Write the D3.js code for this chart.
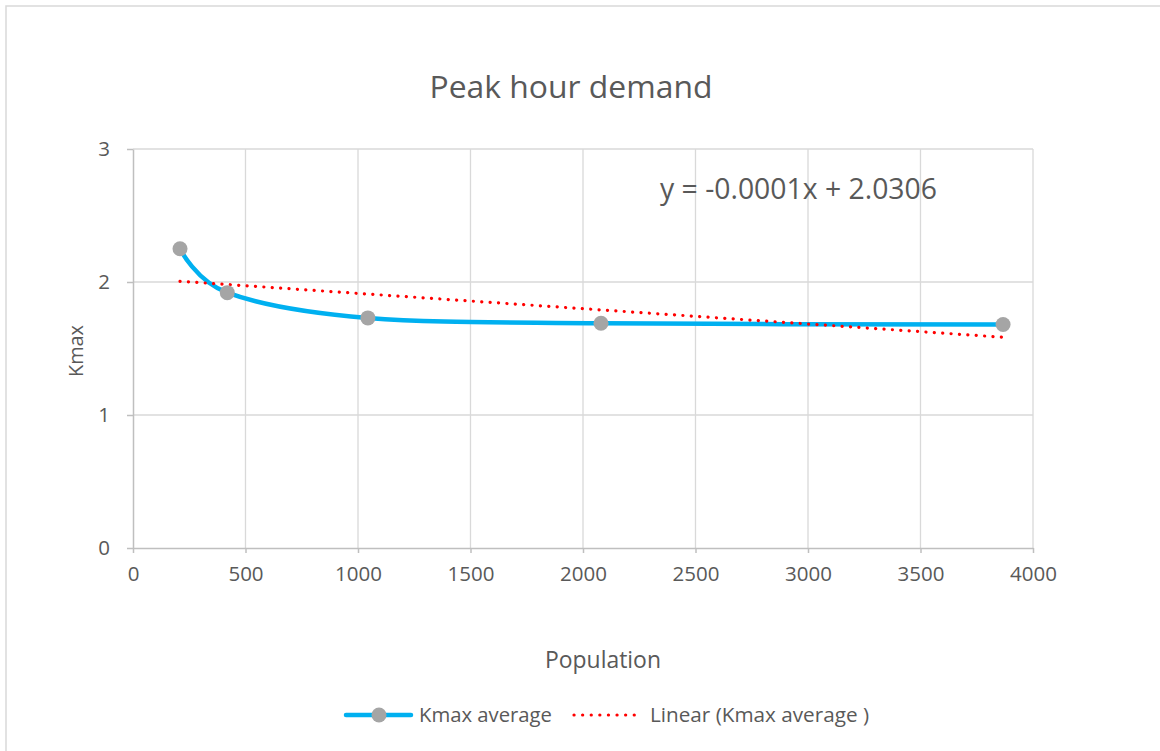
<!DOCTYPE html>
<html>
<head>
<meta charset="utf-8">
<script src="https://cdn.jsdelivr.net/npm/d3@7"></script>
<style>
  body { margin: 0; background: #fff; }
  svg { display: block; }
</style>
</head>
<body>
<svg width="1160" height="751"></svg>
<script>
const population = [209, 419, 1044, 2080, 3867];
const kmax = [2.25, 1.92, 1.73, 1.69, 1.68];
const xTicks = [0, 500, 1000, 1500, 2000, 2500, 3000, 3500, 4000];
const yTicks = [0, 1, 2, 3];

const svg = d3.select("svg");
const font = "'Open Sans', sans-serif";
const textColor = "#595959";

// scale a text's font size so its width matches the reference
function fitWidth(sel, w) {
  const cur = parseFloat(sel.attr("font-size"));
  const len = sel.node().getComputedTextLength();
  sel.attr("font-size", (cur * w / len).toFixed(2) + "px");
}

// chart border
svg.append("rect")
   .attr("x", 6).attr("y", 6)
   .attr("width", 1170).attr("height", 760)
   .attr("fill", "#fff")
   .attr("stroke", "#d9d9d9")
   .attr("stroke-width", 1.5);

const x = d3.scaleLinear().domain([0, 4000]).range([133, 1033]);
const y = d3.scaleLinear().domain([0, 3]).range([548, 149]);

// gridlines
svg.append("g").selectAll("line")
   .data(xTicks.slice(1))
   .join("line")
   .attr("x1", d => x(d)).attr("x2", d => x(d))
   .attr("y1", y(3)).attr("y2", y(0))
   .attr("stroke", "#d9d9d9").attr("stroke-width", 1.3);
svg.append("g").selectAll("line")
   .data(yTicks.slice(1))
   .join("line")
   .attr("x1", x(0)).attr("x2", x(4000))
   .attr("y1", d => y(d)).attr("y2", d => y(d))
   .attr("stroke", "#d9d9d9").attr("stroke-width", 1.3);

// axes
const xAxis = svg.append("g")
   .attr("transform", `translate(0,${y(0)})`)
   .call(d3.axisBottom(x).tickValues(xTicks).tickFormat(d3.format("d"))
          .tickSize(5).tickPadding(10).tickSizeOuter(0));
const yAxis = svg.append("g")
   .attr("transform", `translate(${x(0)},0)`)
   .call(d3.axisLeft(y).tickValues(yTicks).tickFormat(d3.format("d"))
          .tickSize(6).tickPadding(17).tickSizeOuter(0));
[xAxis, yAxis].forEach(a => {
  a.select(".domain").attr("stroke", "#bfbfbf").attr("stroke-width", 1.5);
  a.selectAll(".tick line").attr("stroke", "#bfbfbf").attr("stroke-width", 1.5);
  a.selectAll(".tick text")
   .attr("fill", textColor)
   .attr("font-size", "20.5px")
   .attr("font-family", font);
});
xAxis.selectAll(".tick text").attr("dy", "0.9em");

// linear trendline (least squares)
const n = population.length;
const mx = d3.mean(population), my = d3.mean(kmax);
const slope = d3.sum(population, (d, i) => (d - mx) * (kmax[i] - my)) /
              d3.sum(population, d => (d - mx) * (d - mx));
const intercept = my - slope * mx;
const xs = [population[0], population[n - 1]];

// series line (smoothed)
const pts = population.map((d, i) => [d, kmax[i]]);
svg.append("path")
   .attr("d", d3.line().x(d => x(d[0])).y(d => y(d[1])).curve(d3.curveCatmullRom.alpha(0))(pts))
   .attr("fill", "none")
   .attr("stroke", "#00b0f0")
   .attr("stroke-width", 4.5)
   .attr("stroke-linecap", "round");

svg.append("line")
   .attr("x1", x(xs[0])).attr("y1", y(slope * xs[0] + intercept))
   .attr("x2", x(xs[1])).attr("y2", y(slope * xs[1] + intercept))
   .attr("stroke", "#ff0000")
   .attr("stroke-width", 3.2)
   .attr("stroke-linecap", "round")
   .attr("stroke-dasharray", "0.1 8.3");

svg.append("g").selectAll("circle")
   .data(pts)
   .join("circle")
   .attr("cx", d => x(d[0])).attr("cy", d => y(d[1]))
   .attr("r", 7.5)
   .attr("fill", "#a5a5a5");

// title
svg.append("text")
   .attr("x", 571).attr("y", 98)
   .attr("text-anchor", "middle")
   .attr("font-size", "30px")
   .attr("font-family", font)
   .attr("fill", textColor)
   .text("Peak hour demand")
   .call(fitWidth, 283);

// equation
svg.append("text")
   .attr("x", 660).attr("y", 199)
   .attr("font-size", "24px")
   .attr("font-family", font)
   .attr("fill", textColor)
   .text("y = -0.0001x + 2.0306")
   .call(fitWidth, 277);

// axis titles
svg.append("text")
   .attr("x", 603).attr("y", 668)
   .attr("text-anchor", "middle")
   .attr("font-size", "20px")
   .attr("font-family", font)
   .attr("fill", textColor)
   .text("Population")
   .call(fitWidth, 116);
svg.append("text")
   .attr("transform", "translate(83,351) rotate(-90)")
   .attr("text-anchor", "middle")
   .attr("font-size", "20px")
   .attr("font-family", font)
   .attr("fill", textColor)
   .text("Kmax")
   .call(fitWidth, 52);

// legend
const lg = svg.append("g");
lg.append("line")
   .attr("x1", 346).attr("x2", 411).attr("y1", 715).attr("y2", 715)
   .attr("stroke", "#00b0f0").attr("stroke-width", 4.5).attr("stroke-linecap", "round");
lg.append("circle").attr("cx", 379).attr("cy", 715).attr("r", 7.5).attr("fill", "#a5a5a5");
lg.append("text")
   .attr("x", 419).attr("y", 722)
   .attr("font-size", "19px").attr("font-family", font).attr("fill", textColor)
   .text("Kmax average")
   .call(fitWidth, 133);
lg.append("line")
   .attr("x1", 574).attr("x2", 642).attr("y1", 715).attr("y2", 715)
   .attr("stroke", "#ff0000").attr("stroke-width", 3.2)
   .attr("stroke-linecap", "round").attr("stroke-dasharray", "0.1 8.5");
lg.append("text")
   .attr("x", 650).attr("y", 722)
   .attr("font-size", "19px").attr("font-family", font).attr("fill", textColor)
   .text("Linear (Kmax average )")
   .call(fitWidth, 219);
</script>
</body>
</html>
